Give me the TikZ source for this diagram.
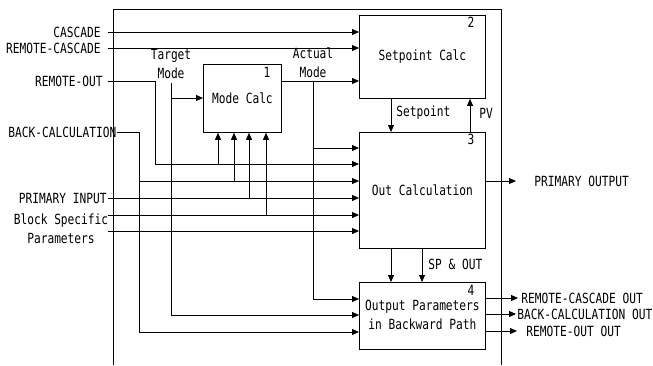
\documentclass[tikz,border=0pt]{standalone}
\usepackage{fontspec}
\setmainfont{DejaVu Sans Mono}[FakeStretch=0.8]
\usetikzlibrary{arrows.meta}
\begin{document}
\begin{tikzpicture}[x=1pt,y=-1pt,
  font=\fontsize{14}{19}\selectfont,
  line width=0.8pt,
  arr/.style={-{Triangle[length=7pt,width=6pt]}},
  box/.style={draw, anchor=north west, inner sep=0pt},
  lbl/.style={inner sep=0pt},
  num/.style={inner sep=0pt}]
\useasboundingbox (0,0) rectangle (653,365);
% frame
\coordinate (f1) at (113,365); \coordinate (f2) at (113,9);
\coordinate (f3) at (501,9); \coordinate (f4) at (501,365);
\draw (f1) -- (f2) -- (f3) -- (f4);
% boxes
\node[box, minimum width=78pt, minimum height=68pt] (b1) at (203,64) {};
\node at (b1.center) {Mode Calc};
\node[box, minimum width=126pt, minimum height=83pt] (b2) at (359,15) {};
\node at (b2.center) {Setpoint Calc};
\node[box, minimum width=126pt, minimum height=116pt] (b3) at (359,132) {};
\node at (b3.center) {Out Calculation};
\node[box, minimum width=126pt, minimum height=67pt] (b4) at (359,282) {};
\node[align=center, inner sep=0pt] at ([yshift=1pt]b4.center) {Output Parameters\\in Backward Path};
\node[num] at (267,72) {1};
\node[num] at (471,22) {2};
\node[num] at (471,139) {3};
\node[num] at (471,290) {4};
% left labels
\node[lbl, anchor=east] (cas) at (101,32) {CASCADE};
\node[lbl, anchor=east] (rcas) at (101,48) {REMOTE-CASCADE};
\node[lbl, anchor=east] (rout) at (103,81) {REMOTE-OUT};
\node[lbl, anchor=west] (bcal) at (8,132) {BACK-CALCULATION};
\node[lbl, anchor=east] (pin) at (107,198) {PRIMARY INPUT};
\node[lbl, align=center] (bsp) at (61,229) {Block Specific\\Parameters};
\node[lbl, align=center] (tm) at (171,64) {Target\\Mode};
\node[lbl, align=center] (am) at (313,63) {Actual\\Mode};
% coordinates
\coordinate (ro1) at (155,164);
\coordinate (bc1) at (139,181); \coordinate (bc2) at (139,332);
\coordinate (bs1) at (108,215); \coordinate (bs2) at (108,231);
\coordinate (t0) at (171,83); \coordinate (t1) at (171,98); \coordinate (t2) at (171,315);
\coordinate (a0) at (313,81); \coordinate (a1) at (313,148); \coordinate (a2) at (313,299);
\coordinate (m1) at (218,164); \coordinate (m2) at (234,181);
\coordinate (m3) at (249,198); \coordinate (m4) at (266,215);
\coordinate (sp) at (391,0); \coordinate (pv) at (470,0); \coordinate (so) at (422,0);
% inputs
\draw[arr] ([xshift=7pt]cas.east) -- (cas.east -| b2.west);
\draw[arr] ([xshift=7pt]rcas.east) -- (rcas.east -| b2.west);
\draw[arr] ([xshift=5pt]rout.east) -| (ro1) -- (ro1 -| b3.west);
\draw[arr] (bcal.east) -| (bc2) -- (bc2 -| b4.west);
\draw[arr] (bc1) -- (bc1 -| b3.west);
\draw[arr] ([xshift=1pt]pin.east) -- (pin.east -| b3.west);
\draw[arr] (bs1) -- (bs1 -| b3.west);
\draw[arr] (bs2) -- (bs2 -| b3.west);
\draw[arr] (m1) -- (m1 |- b1.south);
\draw[arr] (m2) -- (m2 |- b1.south);
\draw[arr] (m3) -- (m3 |- b1.south);
\draw[arr] (m4) -- (m4 |- b1.south);
% target mode
\draw[arr] (t0) -- (t2) -- (t2 -| b4.west);
\draw[arr] (t1) -- (t1 -| b1.west);
% actual mode
\draw[arr] (a0 -| b1.east) -- (a0 -| b2.west);
\draw[arr] (a0) -- (a2) -- (a2 -| b4.west);
\draw[arr] (a1) -- (a1 -| b3.west);
% between boxes
\draw[arr] (sp |- b2.south) -- (sp |- b3.north);
\node[lbl, anchor=west] at (396,113) {Setpoint};
\draw[arr] (pv |- b3.north) -- (pv |- b2.south);
\node[lbl, anchor=west] at (479,113) {PV};
\draw[arr] (sp |- b3.south) -- (sp |- b4.north);
\draw[arr] (so |- b3.south) -- (so |- b4.north);
\node[lbl, anchor=west] at (428,264) {SP \& OUT};
% outputs
\node[lbl, anchor=west] (pout) at (534,181) {PRIMARY OUTPUT};
\draw[arr] (pout.west -| b3.east) -- ([xshift=-18pt]pout.west);
\node[lbl, anchor=west] (o1) at (521,298) {REMOTE-CASCADE OUT};
\node[lbl, anchor=west] (o2) at (517,314) {BACK-CALCULATION OUT};
\node[lbl, anchor=west] (o3) at (526,331) {REMOTE-OUT OUT};
\draw[arr] (o1.west -| b4.east) -- ([xshift=-3pt]o1.west);
\draw[arr] (o2.west -| b4.east) -- ([xshift=-1pt]o2.west);
\draw[arr] (o3.west -| b4.east) -- ([xshift=-9pt]o3.west);
\end{tikzpicture}
\end{document}
